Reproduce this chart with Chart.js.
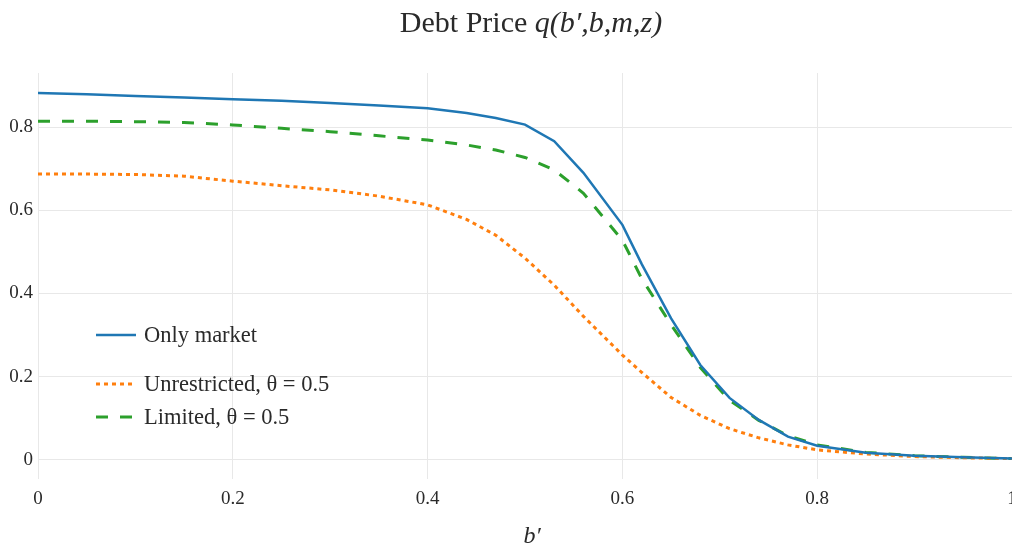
<!DOCTYPE html>
<html>
<head>
<meta charset="utf-8">
<script src="https://cdn.jsdelivr.net/npm/chart.js@4/dist/chart.umd.min.js"></script>
<style>
  html, body { margin: 0; padding: 0; background: #fff; overflow: hidden; }
  #box { width: 1012px; height: 548px; }
</style>
</head>
<body>
<div id="box"><canvas id="grafico"></canvas></div>
<script>
// Dados
const valoresB = [0, 0.05, 0.1, 0.15, 0.2, 0.25, 0.3, 0.35, 0.4, 0.44, 0.47, 0.5, 0.53, 0.56, 0.6, 0.62, 0.65, 0.68, 0.71, 0.74, 0.77, 0.8, 0.85, 0.9, 0.95, 1.0];
const soMercado = [0.882, 0.879, 0.875, 0.871, 0.867, 0.863, 0.858, 0.852, 0.845, 0.834, 0.822, 0.806, 0.766, 0.69, 0.565, 0.47, 0.34, 0.228, 0.149, 0.096, 0.056, 0.034, 0.017, 0.01, 0.006, 0.003];
const irrestrito = [0.687, 0.687, 0.686, 0.682, 0.670, 0.659, 0.649, 0.634, 0.613, 0.578, 0.54, 0.485, 0.42, 0.345, 0.252, 0.21, 0.15, 0.107, 0.075, 0.053, 0.036, 0.024, 0.014, 0.008, 0.005, 0.003];
const limitado = [0.814, 0.814, 0.813, 0.811, 0.805, 0.797, 0.789, 0.779, 0.769, 0.757, 0.745, 0.727, 0.697, 0.641, 0.528, 0.435, 0.325, 0.222, 0.143, 0.095, 0.058, 0.036, 0.018, 0.01, 0.006, 0.003];
const nomesSeries = ['Only market', 'Unrestricted, θ = 0.5', 'Limited, θ = 0.5'];
const ticksX = [0, 0.2, 0.4, 0.6, 0.8, 1];
const ticksY = [0, 0.2, 0.4, 0.6, 0.8];
const tituloNormal = 'Debt Price ';
const tituloItalico = 'q(b′,b,m,z)';
const tituloEixoX = 'b′';

const FONTE = '"Liberation Serif", "Times New Roman", serif';
const pares = arr => arr.map((v, i) => ({ x: valoresB[i], y: v }));

// Título, rótulo do eixo x e legenda desenhados à mão
const pluginTextos = {
    id: 'textos',
    afterDraw(chart) {
        const ctx = chart.ctx;
        ctx.save();
        ctx.fillStyle = '#2a2a2a';
        ctx.textBaseline = 'alphabetic';
        ctx.font = '30px ' + FONTE;
        const w1 = ctx.measureText(tituloNormal).width;
        ctx.font = 'italic 30px ' + FONTE;
        const w2 = ctx.measureText(tituloItalico).width;
        const x0 = 531 - (w1 + w2) / 2;
        ctx.font = '30px ' + FONTE;
        ctx.textAlign = 'left';
        ctx.fillText(tituloNormal, x0, 32);
        ctx.font = 'italic 30px ' + FONTE;
        ctx.fillText(tituloItalico, x0 + w1, 32);

        ctx.font = 'italic 24px ' + FONTE;
        ctx.textAlign = 'center';
        ctx.fillText(tituloEixoX, 532, 543);

        // legenda
        const linhasY = [335, 384, 417];
        ctx.font = '22.5px ' + FONTE;
        ctx.textAlign = 'left';
        ctx.textBaseline = 'middle';
        chart.data.datasets.forEach((ds, i) => {
            const y = linhasY[i];
            ctx.save();
            ctx.strokeStyle = ds.borderColor;
            ctx.lineWidth = ds.borderWidth;
            ctx.setLineDash(ds.borderDash || []);
            ctx.beginPath();
            ctx.moveTo(96, y);
            ctx.lineTo(136, y);
            ctx.stroke();
            ctx.restore();
            ctx.fillStyle = '#2a2a2a';
            ctx.fillText(ds.label, 144, y + 1);
        });
        ctx.restore();
    }
};

new Chart(document.getElementById('grafico'), {
    type: 'line',
    data: {
        datasets: [
            { label: nomesSeries[0], data: pares(soMercado), borderColor: '#1f77b4', borderWidth: 2.5, pointRadius: 0, tension: 0 },
            { label: nomesSeries[1], data: pares(irrestrito), borderColor: '#ff7f0e', borderWidth: 3, borderDash: [4, 4], pointRadius: 0, tension: 0 },
            { label: nomesSeries[2], data: pares(limitado), borderColor: '#2ca02c', borderWidth: 3, borderDash: [12, 12], pointRadius: 0, tension: 0 }
        ]
    },
    options: {
        responsive: true,
        maintainAspectRatio: false,
        animation: false,
        layout: { padding: { top: 73, left: 0, right: 0, bottom: 0 } },
        plugins: {
            legend: { display: false },
            tooltip: { enabled: false },
            title: { display: false }
        },
        scales: {
            x: {
                type: 'linear',
                min: 0,
                max: 1,
                afterBuildTicks: s => { s.ticks = ticksX.map(v => ({ value: v })); },
                afterFit: s => { s.height = 69; s.paddingLeft = 0; s.paddingRight = 0; },
                grid: { color: '#e8e8e8', lineWidth: 1, drawTicks: false },
                border: { display: false },
                ticks: {
                    color: '#2a2a2a',
                    font: { family: FONTE, size: 19 },
                    padding: 9,
                    maxRotation: 0,
                    callback: v => String(v)
                }
            },
            y: {
                min: -0.046,
                max: 0.93,
                afterBuildTicks: s => { s.ticks = ticksY.map(v => ({ value: v })); },
                afterFit: s => { s.width = 38; s.paddingTop = 0; s.paddingBottom = 0; },
                grid: { color: '#e8e8e8', lineWidth: 1, drawTicks: false },
                border: { display: false },
                ticks: {
                    color: '#2a2a2a',
                    font: { family: FONTE, size: 19 },
                    padding: 5,
                    callback: v => String(v)
                }
            }
        }
    },
    plugins: [pluginTextos]
});
</script>
</body>
</html>
